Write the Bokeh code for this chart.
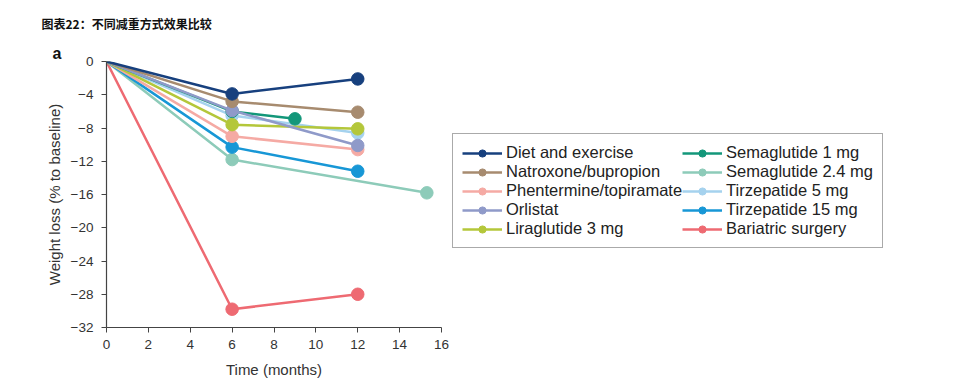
from bokeh.plotting import figure
from bokeh.models import Legend, LegendItem, Title, FixedTicker, Range1d
from bokeh.embed import file_html
from bokeh.resources import INLINE

# ---- data ----
names = ["Diet and exercise", "Natroxone/bupropion", "Phentermine/topiramate", "Orlistat",
         "Liraglutide 3 mg", "Semaglutide 1 mg", "Semaglutide 2.4 mg", "Tirzepatide 5 mg",
         "Tirzepatide 15 mg", "Bariatric surgery"]
colors = ["#17407e", "#a78b6f", "#f5aaa4", "#8f9ac9", "#b4c73a",
          "#13977a", "#8dcbb9", "#a5d2ee", "#1797d6", "#ee6a72"]
months = [
    [0, 6, 12],      # diet
    [0, 6, 12],      # natroxone
    [0, 6, 12],      # phentermine
    [0, 6, 12],      # orlistat
    [0, 6, 12],      # liraglutide
    [0, 6, 9],       # sema 1
    [0, 6, 15.3],    # sema 2.4
    [0, 6, 12],      # tirz 5
    [0, 6, 12],      # tirz 15
    [0, 6, 12],      # bariatric
]
loss = [
    [0, -3.9, -2.1],
    [0, -4.8, -6.1],
    [0, -9.0, -10.6],
    [0, -5.9, -10.1],
    [0, -7.6, -8.1],
    [0, -6.0, -6.9],
    [0, -11.8, -15.8],
    [0, -6.5, -8.6],
    [0, -10.3, -13.2],
    [0, -29.8, -28.0],
]
draw_order = [9, 6, 8, 2, 7, 4, 5, 3, 1, 0]
x_ticks = [0, 2, 4, 6, 8, 10, 12, 14, 16]
y_ticks = [0, -4, -8, -12, -16, -20, -24, -28, -32]

FONT = "Liberation Sans"

p = figure(frame_width=335, frame_height=266, output_backend="svg", toolbar_location=None,
           x_range=Range1d(0, 16), y_range=Range1d(-32, 0),
           min_border_left=106, min_border_top=61, min_border_bottom=46, min_border_right=40)
p.outline_line_color = None
p.xgrid.visible = False
p.ygrid.visible = False

rend = {}
for i in draw_order:
    c = colors[i]
    l = p.line(months[i], loss[i], line_color=c, line_width=2.5)
    s = p.scatter(months[i][1:], loss[i][1:], size=12.5, fill_color=c, line_color=c)
    rend[i] = [l, s]
items = [LegendItem(label=names[i], renderers=rend[i]) for i in range(len(names))]

for ax in (p.xaxis[0], p.yaxis[0]):
    ax.axis_line_color = "#444444"
    ax.axis_line_width = 1.2
    ax.major_tick_line_color = "#444444"
    ax.major_tick_out = 5
    ax.major_tick_in = 0
    ax.minor_tick_line_color = None
    ax.major_label_text_font = FONT
    ax.major_label_text_font_size = "13.5px"
    ax.major_label_text_color = "#333333"
    ax.axis_label_text_font = FONT
    ax.axis_label_text_font_size = "15px"
    ax.axis_label_text_font_style = "normal"
    ax.axis_label_text_color = "#333333"

p.xaxis.ticker = FixedTicker(ticks=x_ticks)
p.yaxis.ticker = FixedTicker(ticks=y_ticks)
p.xaxis.axis_label = "Time (months)"
p.yaxis.axis_label = "Weight loss (% to baseline)"
p.xaxis.major_label_standoff = 7
p.yaxis.major_label_standoff = 8
p.xaxis.axis_label_standoff = 9
p.yaxis.axis_label_standoff = 5

legend = Legend(items=items, location=(11, 79), orientation="vertical", nrows=5,
                label_text_font=FONT, label_text_font_size="16.5px", label_text_color="#222222",
                label_height=18, glyph_height=18, glyph_width=40, label_standoff=4,
                spacing=0, padding=9, margin=0,
                border_line_color="#555555", border_line_width=1.5,
                background_fill_alpha=1.0)
p.add_layout(legend, "right")

lab_a = Title(text="a", align="left", offset=-54, standoff=0,
              text_font=FONT, text_font_size="16px", text_font_style="bold",
              text_color="#111111")
p.add_layout(lab_a, "above")
title = Title(text="图表22：不同减重方式效果比较", align="left", offset=-65, standoff=22,
              text_font="Noto Sans CJK SC", text_font_size="12px", text_font_style="bold",
              text_color="#111111")
p.add_layout(title, "above")

open("out.html", "w").write(file_html(p, INLINE))
